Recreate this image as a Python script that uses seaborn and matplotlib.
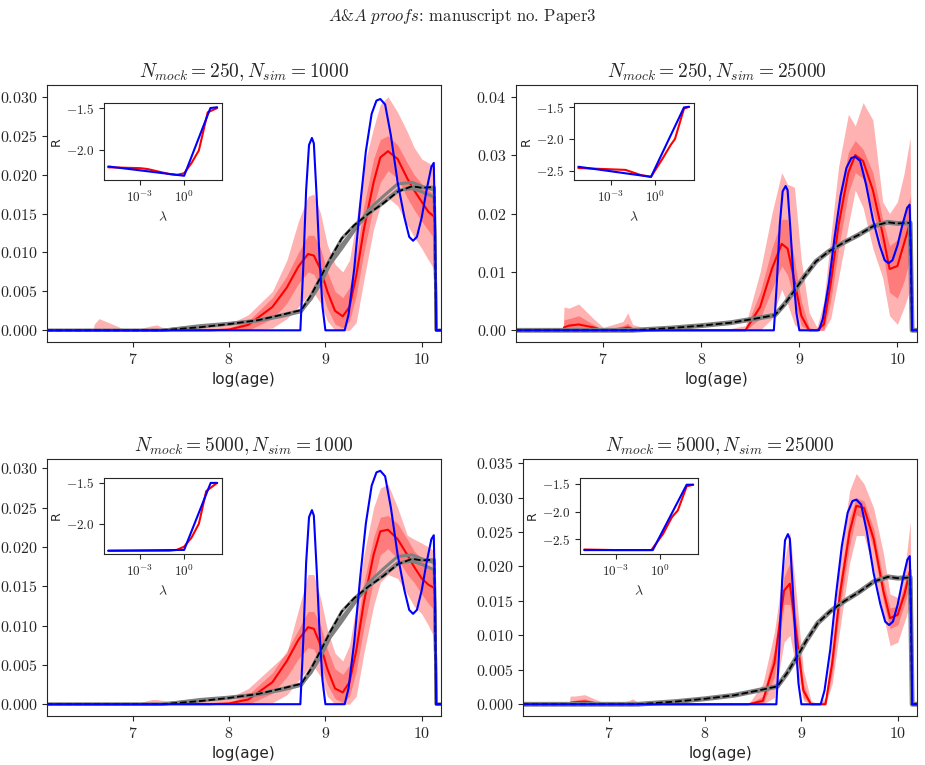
import numpy as np
import pandas as pd
import matplotlib
matplotlib.use("Agg")
import matplotlib.pyplot as plt
import seaborn as sns
from matplotlib.ticker import FuncFormatter, NullLocator

# ---------------- data ----------------
titles = [r"$N_{mock} = 250, N_{sim} = 1000$", r"$N_{mock} = 250, N_{sim} = 25000$",
          r"$N_{mock} = 5000, N_{sim} = 1000$", r"$N_{mock} = 5000, N_{sim} = 25000$"]

blue_x = [6.1, 8.74, 8.77, 8.80, 8.83, 8.86, 8.88, 8.91, 8.94, 8.97, 9.0, 9.2, 9.24, 9.3, 9.36, 9.42,
          9.48, 9.53, 9.57, 9.62, 9.68, 9.75, 9.82, 9.87, 9.91, 9.95, 10.0, 10.05, 10.1, 10.125, 10.14, 10.15, 10.2]
blue_y = [0, 0, 0.008, 0.018, 0.0238, 0.0247, 0.024, 0.017, 0.009, 0.003, 0, 0, 0.002, 0.008, 0.016, 0.023,
          0.0278, 0.0295, 0.0297, 0.029, 0.025, 0.019, 0.0145, 0.012, 0.0115, 0.012, 0.0145, 0.018, 0.021, 0.0215, 0.012, 0, 0]

gx = [6.1, 7.3, 7.7, 8.0, 8.3, 8.55, 8.75, 8.85, 8.95, 9.05, 9.17, 9.3, 9.45, 9.6, 9.75, 9.9, 10.0, 10.13, 10.15, 10.2]
black_y = [0, 0, 0.0004, 0.0008, 0.0013, 0.002, 0.0026, 0.0045, 0.0068, 0.0092, 0.0118, 0.0135, 0.015,
           0.0163, 0.0178, 0.0185, 0.0183, 0.0184, 0, 0]
gray_a = [0, 0, 0.0006, 0.0009, 0.0013, 0.0019, 0.0025, 0.004, 0.006, 0.0085, 0.0105, 0.0128, 0.0155,
          0.0172, 0.0188, 0.019, 0.0185, 0.018, 0, 0]
gray_b = [0, 0, 0.0005, 0.0008, 0.0012, 0.0018, 0.0024, 0.0042, 0.0063, 0.0088, 0.011, 0.013, 0.015,
          0.0165, 0.018, 0.0182, 0.0178, 0.0171, 0, 0]

bx = [6.1, 6.59, 6.6, 6.65, 6.75, 6.9, 7.0, 7.2, 7.25, 7.3, 7.5, 7.8, 8.0, 8.2, 8.45, 8.6, 8.72, 8.82, 8.88,
      8.95, 9.02, 9.1, 9.18, 9.25, 9.32, 9.4, 9.5, 9.57, 9.65, 9.75, 9.85, 9.92, 10.0, 10.07, 10.13, 10.15, 10.2]

p1_med = [0,0,0,0,0,0,0,0,0,0,0,0,0.0001,0.0007,0.003,0.0055,0.0082,0.0098,0.0096,0.0078,0.005,0.0025,0.0018,0.003,0.007,0.013,0.019,0.0222,0.023,0.022,0.0195,0.018,0.0165,0.0152,0.0146,0,0]
p1_ohi = [0,0,0.0008,0.0015,0.001,0.0002,0,0.0006,0.0007,0.0004,0.0002,0.0004,0.0008,0.002,0.005,0.009,0.014,0.0172,0.0175,0.015,0.011,0.0085,0.0075,0.009,0.014,0.021,0.026,0.029,0.030,0.028,0.0255,0.0235,0.022,0.0215,0.021,0,0]
p1_olo = [0,0,0,0,0,0,0,0,0,0,0,0,0,0,0.0003,0.0015,0.003,0.0045,0.0048,0.0035,0.0012,0,0,0,0.001,0.0065,0.013,0.016,0.017,0.016,0.0135,0.012,0.0105,0.009,0.0078,0,0]
p1_ihi = [0,0,0,0,0,0,0,0,0,0,0,0,0.0003,0.0012,0.0042,0.007,0.010,0.0122,0.0122,0.0105,0.0075,0.005,0.0042,0.0055,0.0095,0.016,0.022,0.0245,0.025,0.0238,0.0215,0.020,0.0188,0.018,0.0175,0,0]
p1_ilo = [0,0,0,0,0,0,0,0,0,0,0,0,0,0,0.0015,0.0035,0.006,0.0075,0.0072,0.0055,0.0028,0.0008,0.0003,0.0012,0.0045,0.010,0.016,0.019,0.0205,0.0195,0.017,0.0155,0.014,0.0128,0.0118,0,0]

p2_med = [0,0,0.0005,0.0008,0.001,0.0005,0,0.0003,0.0005,0.0002,0,0,0,0,0,0.004,0.0105,0.0148,0.014,0.0085,0.0025,0,0,0.001,0.008,0.018,0.027,0.030,0.029,0.024,0.0165,0.0105,0.011,0.015,0.0185,0,0]
p2_ohi = [0,0,0.004,0.0038,0.0045,0.002,0.0005,0.0015,0.003,0.001,0,0,0,0,0.0008,0.01,0.02,0.027,0.025,0.0245,0.012,0.003,0.0005,0.005,0.016,0.028,0.037,0.035,0.039,0.036,0.022,0.020,0.022,0.027,0.033,0,0]
p2_olo = [0,0,0,0,0,0,0,0,0,0,0,0,0,0,0,0,0.002,0.007,0.0045,0.001,0,0,0,0,0.002,0.009,0.018,0.024,0.021,0.014,0.009,0.0025,0.001,0.004,0.007,0,0]
p2_ihi = [0,0,0.0018,0.002,0.0025,0.001,0,0.0008,0.0012,0.0005,0,0,0,0,0.0002,0.0065,0.014,0.019,0.019,0.012,0.005,0.0005,0,0.0025,0.011,0.022,0.0305,0.0325,0.031,0.027,0.019,0.0145,0.0155,0.019,0.023,0,0]
p2_ilo = [0,0,0.0002,0.0003,0.0004,0.0002,0,0,0.0001,0,0,0,0,0,0,0.002,0.007,0.011,0.0095,0.005,0.0008,0,0,0,0.005,0.014,0.0235,0.027,0.026,0.0205,0.0135,0.0065,0.0055,0.0085,0.0125,0,0]

p3_med = [0,0,0,0,0,0,0,0,0,0,0,0,0.0001,0.0006,0.0028,0.0055,0.0082,0.0098,0.0096,0.0075,0.0045,0.002,0.0015,0.0028,0.0068,0.013,0.019,0.022,0.0222,0.021,0.019,0.0175,0.016,0.0152,0.0148,0,0]
p3_ohi = [0,0,0,0,0,0,0,0.0006,0.0006,0.0005,0.0003,0.0004,0.0008,0.002,0.0048,0.0065,0.012,0.0165,0.0165,0.0135,0.0095,0.0065,0.0055,0.0075,0.0125,0.019,0.025,0.0275,0.028,0.025,0.0215,0.021,0.0205,0.020,0.0195,0,0]
p3_olo = [0,0,0,0,0,0,0,0,0,0,0,0,0,0,0.0002,0.0012,0.003,0.0045,0.0048,0.0035,0.001,0,0,0,0.001,0.0065,0.0125,0.0155,0.0165,0.016,0.014,0.0125,0.0115,0.010,0.0085,0,0]
p3_ihi = [0,0,0,0,0,0,0,0,0,0,0,0,0.0002,0.0012,0.004,0.0068,0.0095,0.0118,0.0118,0.010,0.007,0.0045,0.0038,0.005,0.0092,0.0155,0.0212,0.0238,0.024,0.023,0.021,0.0195,0.0185,0.0175,0.0168,0,0]
p3_ilo = [0,0,0,0,0,0,0,0,0,0,0,0,0,0,0.0014,0.0035,0.0058,0.0072,0.007,0.0052,0.0025,0.0007,0.0002,0.001,0.0042,0.0098,0.0158,0.019,0.0198,0.0185,0.0165,0.0155,0.014,0.0128,0.012,0,0]

p4_med = [0,0,0.0002,0.0003,0.0004,0.0001,0,0.0001,0.0002,0,0,0,0,0,0,0.0005,0.006,0.0165,0.0175,0.010,0.002,0,0,0,0.006,0.016,0.025,0.0288,0.0285,0.024,0.0165,0.0125,0.013,0.016,0.0195,0,0]
p4_ohi = [0,0,0.0012,0.0012,0.0014,0.0005,0,0.0005,0.0008,0.0003,0,0,0,0,0,0.003,0.0105,0.0205,0.025,0.0155,0.005,0.0005,0,0.001,0.01,0.021,0.031,0.0335,0.032,0.0285,0.022,0.016,0.0155,0.019,0.0265,0,0]
p4_olo = [0,0,0,0,0,0,0,0,0,0,0,0,0,0,0,0,0.001,0.009,0.010,0.005,0.0005,0,0,0,0.003,0.011,0.0205,0.0245,0.0245,0.0195,0.013,0.0085,0.009,0.012,0.0145,0,0]
p4_ihi = [0,0,0.0005,0.0006,0.0008,0.0002,0,0.0002,0.0003,0.0001,0,0,0,0,0,0.0012,0.008,0.0185,0.0205,0.012,0.003,0,0,0.0005,0.0075,0.018,0.027,0.030,0.0295,0.0255,0.018,0.014,0.0142,0.0175,0.0205,0,0]
p4_ilo = [0,0,0,0,0,0,0,0,0,0,0,0,0,0,0,0,0.004,0.0145,0.0145,0.008,0.001,0,0,0,0.0045,0.014,0.023,0.0275,0.027,0.0225,0.015,0.011,0.0115,0.0145,0.0175,0,0]

# inset L-curves: log10(lambda) and R
in1_bx = [-5.15, 0.0, 1.78, 2.24]; in1_by = [-2.19, -2.30, -1.50, -1.49]
in1_rx = [-5.15, -3.0, -2.5, -1.0, -0.5, 0.0, 0.5, 1.0, 1.6, 2.24]
in1_ry = [-2.20, -2.21, -2.22, -2.28, -2.29, -2.27, -2.15, -2.00, -1.55, -1.50]
in2_bx = [-5.15, -0.3, 1.9, 2.24]; in2_by = [-2.44, -2.60, -1.50, -1.49]
in2_rx = [-5.15, -2.0, -1.0, -0.3, 0.5, 1.0, 1.3, 1.9, 2.24]
in2_ry = [-2.46, -2.49, -2.57, -2.60, -2.30, -2.10, -2.00, -1.52, -1.49]
in3_bx = [-5.15, 0.0, 1.8, 2.24]; in3_by = [-2.33, -2.32, -1.50, -1.50]
in3_rx = [-5.15, -1.0, -0.5, 0.0, 0.5, 1.0, 1.5, 2.24]
in3_ry = [-2.33, -2.33, -2.32, -2.28, -2.17, -2.00, -1.60, -1.50]
in4_bx = [-5.15, -0.5, 1.8, 2.24]; in4_by = [-2.69, -2.69, -1.52, -1.52]
in4_rx = [-5.15, -3.0, -0.6, 0.2, 0.8, 1.2, 1.8, 2.24]
in4_ry = [-2.68, -2.69, -2.69, -2.40, -2.10, -1.98, -1.55, -1.52]

# ---------------- style ----------------
sns.set_style("ticks")
plt.rcParams["font.family"] = ["cmr10", "DejaVu Sans"]
plt.rcParams["mathtext.fontset"] = "cm"
plt.rcParams["axes.formatter.use_mathtext"] = True

W, H = 925, 765
fig = plt.figure(figsize=(W / 100, H / 100), dpi=100)

def rect(l, t, r, b):
    return [l / W, 1 - b / H, (r - l) / W, (b - t) / H]

main_rects = [(47, 85, 441, 342), (516, 85, 917, 342), (47, 459, 441, 716), (523, 459, 917, 716)]
inset_rects = [(104, 103, 222, 180), (574, 103, 694, 180), (104, 478, 222, 554), (580, 478, 698, 554)]
ylims = [(-0.0015, 0.0315), (-0.002, 0.042), (-0.0015, 0.0312), (-0.0017, 0.0356)]
yticks = [np.arange(0, 0.031, 0.005), np.arange(0, 0.041, 0.01), np.arange(0, 0.031, 0.005), np.arange(0, 0.036, 0.005)]
yfmt = ["%.3f", "%.2f", "%.3f", "%.3f"]
bands = [(p1_med, p1_olo, p1_ohi, p1_ilo, p1_ihi), (p2_med, p2_olo, p2_ohi, p2_ilo, p2_ihi),
         (p3_med, p3_olo, p3_ohi, p3_ilo, p3_ihi), (p4_med, p4_olo, p4_ohi, p4_ilo, p4_ihi)]
grays = [[gray_a, gray_b, black_y], [black_y], [gray_a, gray_b, black_y], [black_y]]
gray_lw = [2.2, 3.5, 2.2, 3.5]
insets = [(in1_bx, in1_by, in1_rx, in1_ry, (-2.35, -1.44), [-2.0, -1.5]),
          (in2_bx, in2_by, in2_rx, in2_ry, (-2.65, -1.43), [-2.5, -2.0, -1.5]),
          (in3_bx, in3_by, in3_rx, in3_ry, (-2.37, -1.44), [-2.0, -1.5]),
          (in4_bx, in4_by, in4_rx, in4_ry, (-2.76, -1.40), [-2.5, -2.0, -1.5])]

def mfmt(f):
    return FuncFormatter(lambda v, p: "$" + (f % v) + "$")

for i in range(4):
    ax = fig.add_axes(rect(*main_rects[i]))
    med, olo, ohi, ilo, ihi = bands[i]
    ax.fill_between(bx, olo, ohi, color="red", alpha=0.3, lw=0)
    ax.fill_between(bx, ilo, ihi, color="red", alpha=0.3, lw=0)
    sns.lineplot(x=bx, y=med, ax=ax, color="red", lw=1.5, estimator=None)
    for g in grays[i]:
        sns.lineplot(x=gx, y=g, ax=ax, color="gray", lw=gray_lw[i], estimator=None)
    sns.lineplot(x=gx, y=black_y, ax=ax, color="black", lw=1.3, linestyle="--", estimator=None)
    sns.lineplot(x=blue_x, y=blue_y, ax=ax, color="blue", lw=1.5, estimator=None)
    ax.set_xlim(6.11, 10.2)
    ax.set_ylim(*ylims[i])
    ax.set_xticks([7, 8, 9, 10])
    ax.set_yticks(yticks[i])
    ax.yaxis.set_major_formatter(mfmt(yfmt[i]))
    ax.xaxis.set_major_formatter(mfmt("%d"))
    ax.tick_params(labelsize=11.5)
    ax.set_xlabel("log(age)", fontsize=11, family="DejaVu Sans")
    ax.set_title(titles[i], fontsize=14)

    bxl, byl, rxl, ryl, yl, yt = insets[i]
    ia = fig.add_axes(rect(*inset_rects[i]))
    sns.lineplot(x=10.0 ** np.array(rxl), y=ryl, ax=ia, color="red", lw=1.5, estimator=None)
    sns.lineplot(x=10.0 ** np.array(bxl), y=byl, ax=ia, color="blue", lw=1.5, estimator=None)
    ia.set_xscale("log")
    ia.set_xlim(10 ** -5.44, 10 ** 2.57)
    ia.set_ylim(*yl)
    ia.set_xticks([1e-3, 1e0])
    ia.xaxis.set_minor_locator(NullLocator())
    ia.set_yticks(yt)
    ia.yaxis.set_major_formatter(mfmt("%.1f"))
    ia.tick_params(labelsize=9.5)
    ia.set_xlabel(r"$\lambda$", fontsize=10)
    ia.set_ylabel("R", fontsize=9, family="DejaVu Sans", labelpad=2)

fig.text(0.5, 1 - 17 / H, r"$\mathit{A}$&$\mathit{A\ proofs}$: manuscript no. Paper3", ha="center", va="center", fontsize=12)
fig.savefig("out.png", dpi=100)
